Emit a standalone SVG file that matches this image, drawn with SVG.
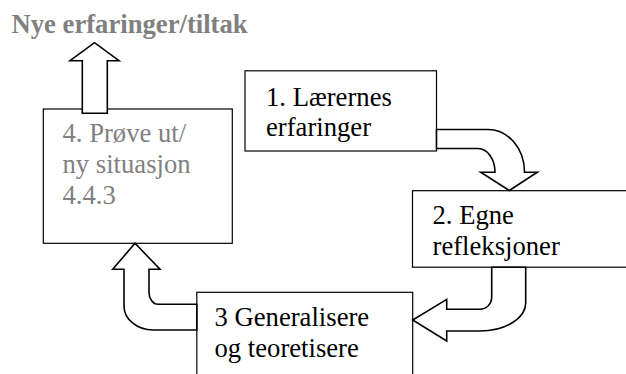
<svg xmlns="http://www.w3.org/2000/svg" width="626" height="374" viewBox="0 0 626 374">
<style>
  .box { fill: #ffffff; stroke: #000000; stroke-width: 1.2; }
  .arrow { fill: #ffffff; stroke: #000000; stroke-width: 1.6; stroke-linejoin: miter; }
  .t { font-family: "Liberation Serif", "Times New Roman", serif; font-size: 26.67px; fill: #000000; }
  .gray { fill: #808080; }
  .title { font-weight: bold; }
</style>
<rect width="626" height="374" fill="#ffffff"/>
<g id="title">
  <text class="t gray title" x="11.5" y="32.5">Nye erfaringer/tiltak</text>
</g>
<g id="node4">
  <rect class="box" x="43.3" y="109" width="189" height="134.3"/>
  <text class="t gray" x="62.5" y="142">4. Prøve ut/</text>
  <text class="t gray" x="62.5" y="173">ny situasjon</text>
  <text class="t gray" x="62.5" y="204">4.4.3</text>
</g>
<g id="node1">
  <rect class="box" x="245" y="70.8" width="191.5" height="80.2"/>
  <text class="t" x="266" y="105.5">1. Lærernes</text>
  <text class="t" x="266" y="136">erfaringer</text>
</g>
<g id="node2">
  <rect class="box" x="412.5" y="190.7" width="230" height="76.5"/>
  <text class="t" x="432.5" y="224">2. Egne</text>
  <text class="t" x="432.5" y="255">refleksjoner</text>
</g>
<g id="node3">
  <rect class="box" x="196.8" y="292.3" width="215.9" height="100"/>
  <text class="t" x="214.5" y="326">3 Generalisere</text>
  <text class="t" x="214.5" y="357">og teoretisere</text>
</g>
<g id="connectors">
  <path class="arrow" d="M82.3,113.3 V60.7 H70 L94.5,42.7 L119,60.7 H107.3 V113.3 Z"/>
  <path class="arrow" d="M436.5,129.5 H488 A36.5,42.5 0 0 1 524.5,172.2 H537.3 L509.3,190.5 L480.7,172.2 H495 A17,23.7 0 0 0 478,148.5 H436.5 Z"/>
  <path class="arrow" d="M491.7,267.2 V297.3 A12,12 0 0 1 479.7,309.3 H446.7 V299.3 L412.7,320 L446.7,341 V331 H480 A45.7,28 0 0 0 525.7,303 V267.2 Z"/>
  <path class="arrow" d="M196.8,304.3 H158 A9,12 0 0 1 149,292.3 V269.3 H160 L135,243.3 L112.7,269.3 H124 V306 A29,24 0 0 0 153,330 H196.8 Z"/>
</g>
</svg>
